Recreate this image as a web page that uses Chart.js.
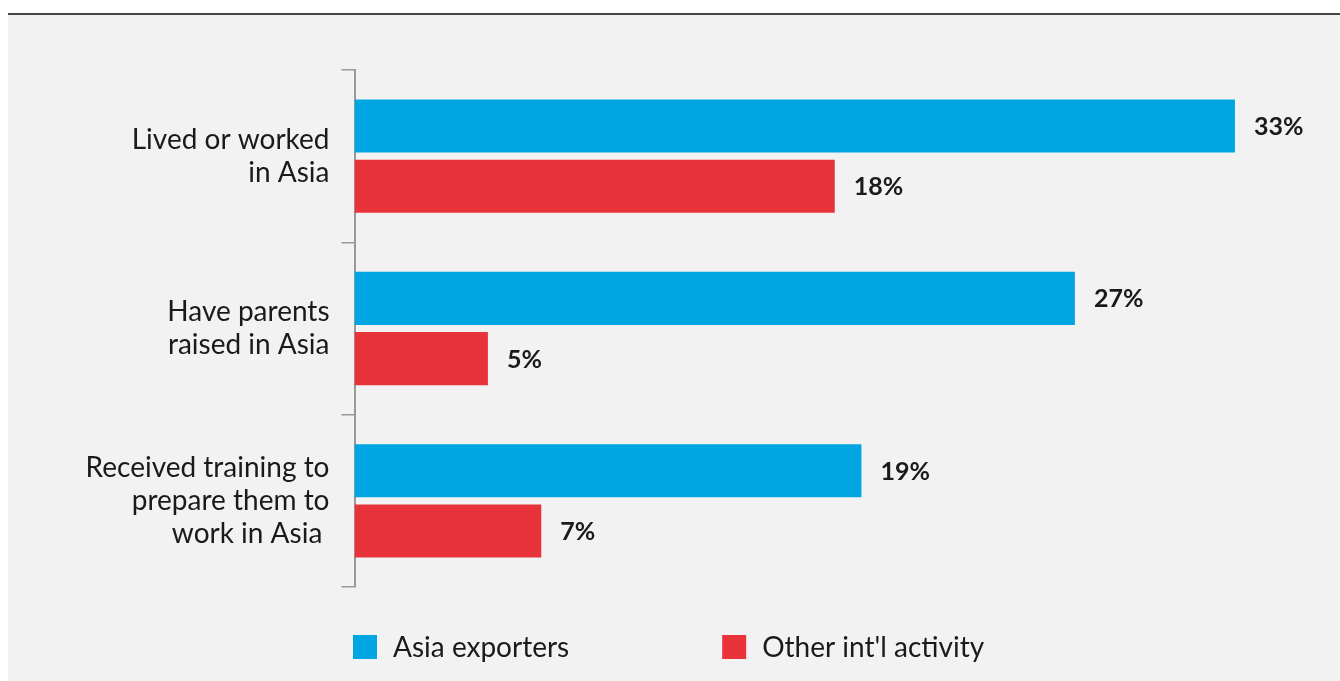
<!DOCTYPE html>
<html>
<head>
<meta charset="utf-8">
<script src="https://cdn.jsdelivr.net/npm/chart.js@4"></script>
<style>
  html, body { margin: 0; padding: 0; background: #ffffff; }
  body { width: 1340px; height: 681px; position: relative; overflow: hidden; }
  #panel { position: absolute; left: 8px; top: 13px; right: 0; bottom: 0; background: #f2f2f2; border-top: 2.5px solid #454545; }
  #wrap { position: absolute; left: 0; top: 0; width: 1340px; height: 681px; }
</style>
</head>
<body>
<div id="panel"></div>
<div id="wrap"><canvas id="c" width="1340" height="681"></canvas></div>
<script>
const categories = [
  ["Lived or worked", "in Asia"],
  ["Have parents", "raised in Asia"],
  ["Received training to", "prepare them to", "work in Asia "]
];
const seriesNames = ["Asia exporters", "Other int'l activity"];
const asiaExporters = [33, 27, 19];
const otherIntl = [18, 5, 7];
const seriesColors = ["#00a6e2", "#e8333a"];

const FONT = "Lato, 'Noto Sans', sans-serif";

const valueLabels = {
  id: 'valueLabels',
  afterDatasetsDraw(chart) {
    const ctx = chart.ctx;
    ctx.save();
    ctx.font = "bold 25px " + FONT;
    ctx.fillStyle = "#1a1a1a";
    ctx.textAlign = "left";
    ctx.textBaseline = "middle";
    chart.data.datasets.forEach((ds, i) => {
      const meta = chart.getDatasetMeta(i);
      meta.data.forEach((bar, j) => {
        ctx.fillText(ds.data[j] + "%", bar.x + 19, bar.y + 1);
      });
    });
    ctx.restore();
  }
};

const customLegend = {
  id: 'customLegend',
  afterDraw(chart) {
    const ctx = chart.ctx;
    ctx.save();
    ctx.font = "28px " + FONT;
    ctx.textBaseline = "middle";
    ctx.textAlign = "left";
    const box = 24, gapText = 16, gapItems = 153;
    const items = chart.data.datasets.map(ds => ({ text: ds.label, color: ds.backgroundColor, w: ctx.measureText(ds.label).width }));
    let total = 0;
    items.forEach((it, i) => { total += box + gapText + it.w + (i > 0 ? gapItems : 0); });
    let x = Math.round(chart.width / 2 - 1 - total / 2);
    const cy = 647;
    items.forEach(it => {
      ctx.fillStyle = it.color;
      ctx.fillRect(x, cy - box / 2, box, box);
      ctx.fillStyle = "#1a1a1a";
      ctx.fillText(it.text, x + box + gapText, cy + 1);
      x += box + gapText + it.w + gapItems;
    });
    ctx.restore();
  }
};

new Chart(document.getElementById('c'), {
  type: 'bar',
  data: {
    labels: categories,
    datasets: [
      { label: seriesNames[0], data: asiaExporters, backgroundColor: seriesColors[0] },
      { label: seriesNames[1], data: otherIntl, backgroundColor: seriesColors[1] }
    ]
  },
  options: {
    indexAxis: 'y',
    responsive: false,
    animation: false,
    events: [],
    categoryPercentage: 0.7,
    barPercentage: 0.88,
    layout: { padding: { top: 70, bottom: 94, right: 25, left: 0 } },
    plugins: { legend: { display: false }, tooltip: { enabled: false } },
    scales: {
      x: { display: false, min: 0, max: 36 },
      y: {
        afterFit(scale) { scale.width = 354.5; },
        grid: { display: true, drawOnChartArea: false, drawTicks: true, tickLength: 13, color: '#999999', lineWidth: 1.5, offset: true },
        border: { display: true, color: '#999999', width: 2 },
        ticks: { color: '#1a1a1a', padding: 12, font: { family: FONT, size: 28, lineHeight: 1.17 } }
      }
    }
  },
  plugins: [valueLabels, customLegend]
});
</script>
</body>
</html>
